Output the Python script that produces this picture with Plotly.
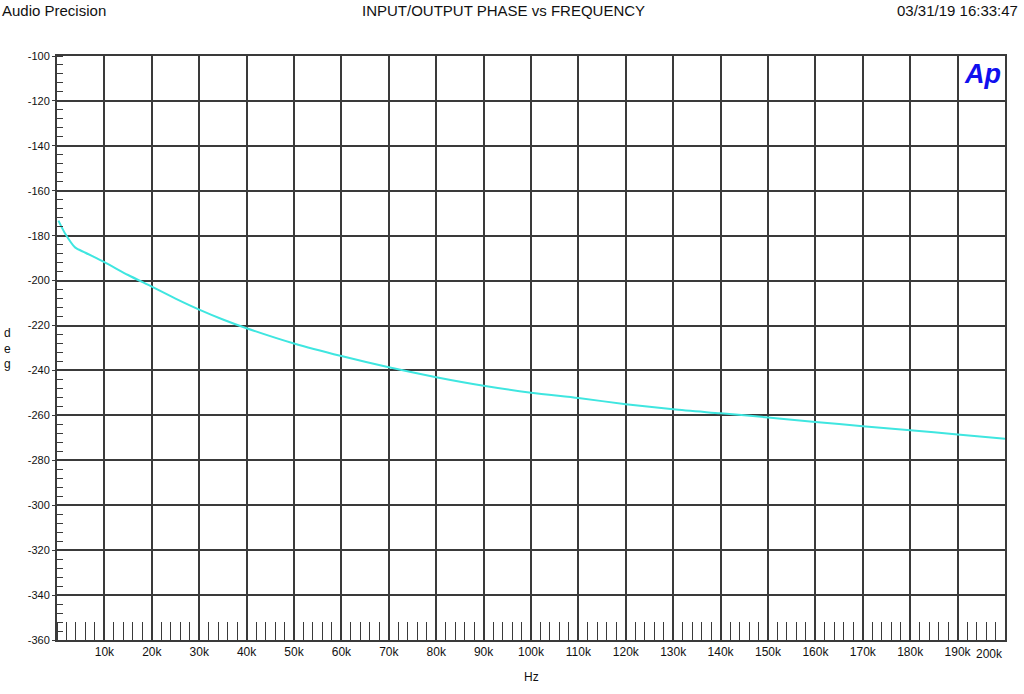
import plotly.graph_objects as go

# Data
freq_hz = [300, 1700, 3800, 6000, 10000, 15000, 20000, 25000, 30000, 35000, 40000,
           50000, 60000, 70000, 80000, 90000, 100000, 110000, 120000, 130000,
           140000, 150000, 160000, 170000, 180000, 190000, 200000]
phase_deg = [-173.3, -179.0, -185.2, -187.6, -191.8, -197.5, -202.7, -208.0, -212.9,
             -217.3, -221.2, -228.0, -233.6, -238.6, -243.0, -246.8, -249.9, -252.3,
             -255.0, -257.3, -259.1, -260.9, -262.9, -264.8, -266.6, -268.5, -270.4]

x_tickvals = [10000 * i for i in range(1, 20)]
x_ticktext = [f"{10 * i}k" for i in range(1, 20)]
y_tickvals = list(range(-360, -99, 20))
y_ticktext = [str(v) for v in y_tickvals]

FONT = "Liberation Sans Narrow, Arial Narrow, Liberation Sans, Arial, sans-serif"
GRID = "#3a3a3a"

fig = go.Figure()
fig.add_trace(go.Scatter(x=freq_hz, y=phase_deg, mode="lines",
                         line=dict(color="#3fe6e0", width=2, shape="spline", smoothing=0.8),
                         hoverinfo="skip", showlegend=False))

fig.update_layout(
    width=1024, height=694,
    margin=dict(l=57, r=19, t=56, b=54),
    paper_bgcolor="white", plot_bgcolor="white",
    font=dict(family=FONT, color="#111", size=12),
    xaxis=dict(range=[0, 200000], tickvals=x_tickvals, ticktext=x_ticktext,
               showgrid=True, gridcolor=GRID, gridwidth=1.5,
               showline=True, linecolor=GRID, linewidth=2, mirror=True,
               ticks="", tickfont=dict(size=12, family=FONT), zeroline=False,
               minor=dict(dtick=2000, tick0=0, ticks="inside", ticklen=18,
                          tickcolor=GRID, tickwidth=1.2, showgrid=False)),
    yaxis=dict(range=[-360, -100], tickvals=y_tickvals, ticktext=y_ticktext,
               showgrid=True, gridcolor=GRID, gridwidth=1.5,
               showline=True, linecolor=GRID, linewidth=2, mirror=True,
               ticks="outside", ticklen=3, tickcolor=GRID,
               tickfont=dict(size=11, family=FONT), zeroline=False,
               minor=dict(dtick=4, tick0=-360, ticks="inside", ticklen=6,
                          tickcolor=GRID, tickwidth=1.2, showgrid=False)),
)

ann = [
    dict(text="Audio Precision", x=0, y=1, xref="paper", yref="paper", xanchor="left",
         yanchor="top", xshift=-57, yshift=56, font=dict(size=15, family=FONT)),
    dict(text="INPUT/OUTPUT PHASE vs FREQUENCY", x=0.5, y=1, xref="paper", yref="paper",
         xanchor="center", yanchor="top", xshift=-28, yshift=56, font=dict(size=15, family=FONT)),
    dict(text="03/31/19 16:33:47", x=1, y=1, xref="paper", yref="paper", xanchor="right",
         yanchor="top", xshift=15, yshift=56, font=dict(size=15, family=FONT)),
    dict(text="200k", x=200000, y=0, xref="x", yref="paper", xanchor="right",
         yanchor="top", yshift=-5, showarrow=False, font=dict(size=12, family=FONT)),
    dict(text="Hz", x=100000, y=0, xref="x", yref="paper", xanchor="center",
         yanchor="top", yshift=-28, font=dict(size=12, family=FONT)),
    dict(text="d<br>e<br>g", x=0, y=0.5, xref="paper", yref="paper", xanchor="left",
         yanchor="middle", xshift=-55, align="left", font=dict(size=12, family=FONT)),
    dict(text="<b><i>Ap</i></b>", x=1, y=1, xref="paper", yref="paper", xanchor="right",
         yanchor="top", xshift=-2, yshift=-1,
         font=dict(size=27, family="Liberation Sans, Arial, sans-serif", color="#1010ee")),
]
for a in ann:
    a.setdefault("showarrow", False)
    fig.add_annotation(**a)

fig.write_html("out.html", config={"displayModeBar": False},
               post_script="document.body.style.margin='0';document.body.style.overflow='hidden';")
